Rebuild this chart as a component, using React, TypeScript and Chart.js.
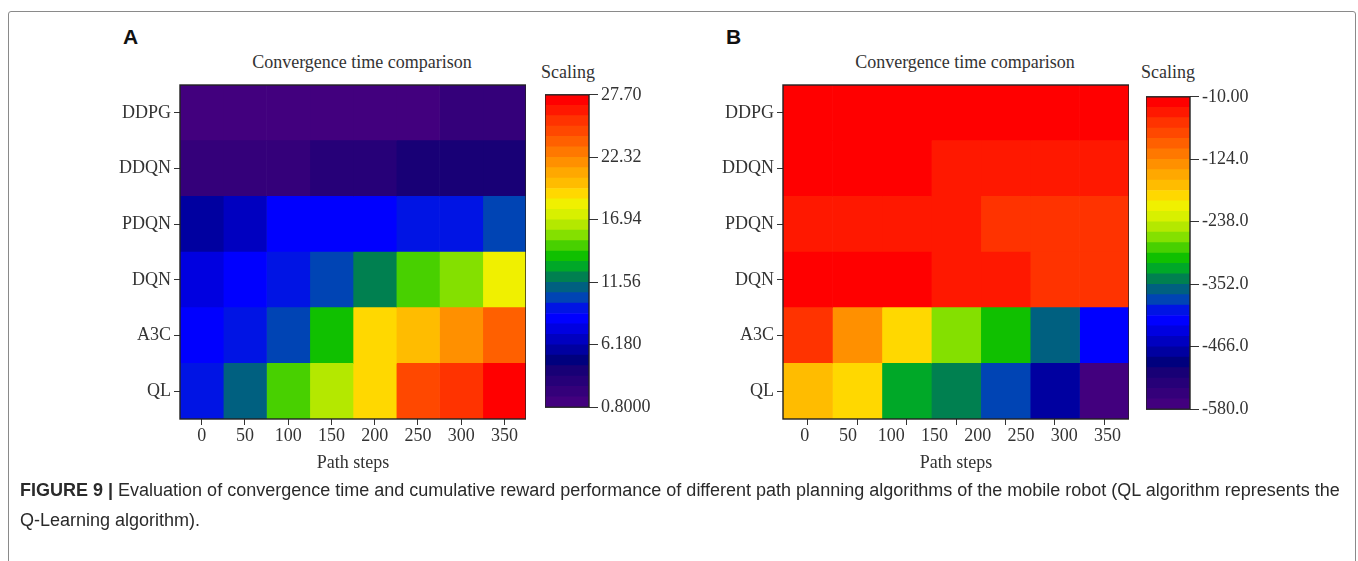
import React, { useEffect, useRef } from 'react';
import { Chart, registerables } from 'chart.js';

Chart.register(...registerables);

// ---- labels ----
const algorithms = ['DDPG', 'DDQN', 'PDQN', 'DQN', 'A3C', 'QL'];
const pathSteps = ['0', '50', '100', '150', '200', '250', '300', '350'];

// ---- Panel A: convergence time (8 cells per row) ----
const convDDPG = [1.3, 1.2, 1.4, 1.3, 1.2, 1.4, 2.2, 2.1];
const convDDQN = [2.3, 2.2, 2.1, 3.1, 3.0, 3.9, 4.0, 3.9];
const convPDQN = [5.7, 6.6, 8.4, 8.5, 8.3, 9.3, 9.2, 10.2];
const convDQN = [7.5, 8.4, 9.3, 10.1, 12.0, 14.7, 15.6, 18.3];
const convA3C = [8.4, 9.2, 10.1, 13.8, 19.2, 20.1, 21.9, 23.7];
const convQL = [9.3, 11.1, 14.7, 16.5, 19.2, 24.6, 25.5, 27.3];
const convScaleTicks = [0.8, 6.18, 11.56, 16.94, 22.32, 27.7];

// ---- Panel B: cumulative reward (7 cells per row) ----
const rewardDDPG = [-18, -17, -19, -18, -16, -18, -19];
const rewardDDQN = [-17, -19, -18, -38, -37, -39, -38];
const rewardPDQN = [-38, -37, -39, -38, -57, -56, -58];
const rewardDQN = [-18, -17, -19, -37, -38, -56, -57];
const rewardA3C = [-57, -133, -190, -266, -304, -361, -418];
const rewardQL = [-171, -190, -323, -342, -380, -475, -570];
const rewardScaleTicks = [-580, -466, -352, -238, -124, -10];

// ---- discrete rainbow palette (bottom -> top) ----
const palette = [
  '#42007e', '#34007a', '#260078', '#180076', '#00007e', '#0000a0',
  '#0000c0', '#0000e0', '#0000ff', '#0014e4', '#0044b4', '#006080',
  '#008050', '#00a828', '#10c000', '#48d000', '#84e000', '#b4e800',
  '#d8f000', '#f0f000', '#ffd800', '#ffbc00', '#ffa800', '#ff9000',
  '#ff7800', '#ff6000', '#ff4800', '#ff3300', '#ff1800', '#ff0000',
];

const SERIF = "'Liberation Serif', 'Times New Roman', serif";
const SANS = "'Liberation Sans', Arial, Helvetica, sans-serif";
const INK = '#333333';

const matrixA = [convDDPG, convDDQN, convPDQN, convDQN, convA3C, convQL];
const matrixB = [rewardDDPG, rewardDDQN, rewardPDQN, rewardDQN, rewardA3C, rewardQL];

function colorFor(v: number, min: number, max: number) {
  const n = palette.length;
  let k = Math.floor(((v - min) / (max - min)) * n);
  if (k < 0) k = 0;
  if (k > n - 1) k = n - 1;
  return palette[k];
}

const framePlugin = {
  id: 'frame',
  afterDatasetsDraw(chart: any) {
    const { ctx, chartArea: a } = chart;
    ctx.save();
    ctx.strokeStyle = '#222222';
    ctx.lineWidth = 1.4;
    ctx.strokeRect(a.left, a.top, a.right - a.left, a.bottom - a.top);
    ctx.restore();
  },
};

const tickFont = { family: SERIF, size: 18 };

function Heatmap({ matrix, scaleTicks, left, top }: { matrix: number[][]; scaleTicks: number[]; left: number; top: number }) {
  const ref = useRef<HTMLCanvasElement | null>(null);
  useEffect(() => {
    const min = scaleTicks[0];
    const max = scaleTicks[scaleTicks.length - 1];
    const nCols = matrix[0].length;
    const datasets = Array.from({ length: nCols }, (_, j) => ({
      data: matrix.map(() => 1),
      backgroundColor: matrix.map((row) => colorFor(row[j], min, max)),
      borderWidth: 0,
      barPercentage: 1,
      categoryPercentage: 1,
      xAxisID: 'x',
      yAxisID: 'y',
    }));
    const chart = new Chart(ref.current as HTMLCanvasElement, {
      type: 'bar',
      data: { labels: algorithms, datasets },
      options: {
        indexAxis: 'y',
        animation: false,
        responsive: false,
        layout: { padding: { top: 45, bottom: 2, left: 0, right: 0 } },
        plugins: {
          legend: { display: false },
          tooltip: { enabled: false },
          title: { display: false },
        },
        scales: {
          y: {
            type: 'category',
            stacked: true,
            offset: true,
            position: 'left',
            grid: { offset: false, drawOnChartArea: false, drawTicks: true, tickLength: 6, color: '#333' },
            border: { display: false },
            ticks: { font: tickFont, color: INK, padding: 3 },
            afterFit: (s: any) => {
              s.width = 80;
            },
          },
          x: {
            type: 'linear',
            stacked: true,
            min: 0,
            max: nCols,
            position: 'bottom',
            weight: 0,
            afterBuildTicks: (s: any) => {
              s.ticks = Array.from({ length: nCols }, (_, j) => ({ value: j + 0.5 }));
            },
            ticks: { display: false },
            grid: { drawOnChartArea: false, drawTicks: true, tickLength: 6, color: '#333' },
            border: { display: false },
          },
          xl: {
            type: 'category',
            axis: 'x',
            labels: pathSteps,
            position: 'bottom',
            offset: true,
            weight: 1,
            grid: { display: false, drawTicks: false },
            border: { display: false },
            ticks: { font: tickFont, color: INK, padding: 0, maxRotation: 0, autoSkip: false },
            title: {
              display: true,
              text: 'Path steps',
              font: { family: SERIF, size: 18 },
              color: INK,
              padding: { top: 2, bottom: 4 },
            },
            afterFit: (s: any) => {
              s.height = 53;
            },
          },
        },
      } as any,
      plugins: [framePlugin],
    });
    return () => chart.destroy();
  }, [matrix, scaleTicks]);
  return (
    <canvas
      ref={ref}
      width={426}
      height={440}
      style={{ position: 'absolute', left, top, width: 426, height: 440 }}
    />
  );
}

function ColorBar({ ticks, left, top }: { ticks: number[]; left: number; top: number }) {
  const ref = useRef<HTMLCanvasElement | null>(null);
  useEffect(() => {
    const min = ticks[0];
    const max = ticks[ticks.length - 1];
    const step = (max - min) / palette.length;
    const datasets = palette.map((c, k) => ({
      data: [[min + k * step, min + (k + 1) * step]],
      backgroundColor: c,
      borderWidth: 0,
      barPercentage: 1,
      categoryPercentage: 1,
    }));
    const chart = new Chart(ref.current as HTMLCanvasElement, {
      type: 'bar',
      data: { labels: [''], datasets },
      options: {
        animation: false,
        responsive: false,
        layout: { padding: { top: 10, bottom: 10, left: 0, right: 0 } },
        plugins: { legend: { display: false }, tooltip: { enabled: false } },
        scales: {
          x: { stacked: true, display: false },
          y: {
            type: 'linear',
            min,
            max,
            position: 'right',
            afterBuildTicks: (s: any) => {
              s.ticks = ticks.map((v) => ({ value: v }));
            },
            ticks: {
              font: tickFont,
              color: INK,
              padding: 3,
              callback: (v: any) => Number(v).toPrecision(4),
            },
            grid: { drawOnChartArea: false, drawTicks: true, tickLength: 9, color: '#333' },
            border: { display: false },
            afterFit: (s: any) => {
              s.width = 66;
            },
          },
        },
      } as any,
      plugins: [framePlugin],
    });
    return () => chart.destroy();
  }, [ticks]);
  return (
    <canvas
      ref={ref}
      width={110}
      height={340}
      style={{ position: 'absolute', left, top, width: 110, height: 340 }}
    />
  );
}

function CenterText({ text, cx, cy, size }: { text: string; cx: number; cy: number; size: number }) {
  const lh = Math.round(size * 1.2);
  return (
    <div
      style={{
        position: 'absolute',
        left: cx - 200,
        width: 400,
        top: cy - lh / 2,
        height: lh,
        lineHeight: `${lh}px`,
        textAlign: 'center',
        fontFamily: SERIF,
        fontSize: size,
        color: INK,
        whiteSpace: 'nowrap',
      }}
    >
      {text}
    </div>
  );
}

const panelLetter = {
  position: 'absolute' as const,
  top: 26,
  fontFamily: SANS,
  fontWeight: 700,
  fontSize: 21,
  lineHeight: '21px',
  color: '#111',
};

export default function App() {
  return (
    <div
      style={{
        position: 'fixed',
        left: 0,
        top: 0,
        width: 1358,
        height: 561,
        background: '#ffffff',
        overflow: 'hidden',
      }}
    >
      <div
        style={{
          position: 'absolute',
          left: 8,
          top: 11,
          width: 1346,
          height: 620,
          border: '1px solid #8a8a8a',
          borderRadius: 3,
        }}
      />
      <div style={{ ...panelLetter, left: 123 }}>A</div>
      <div style={{ ...panelLetter, left: 726 }}>B</div>

      <CenterText text="Convergence time comparison" cx={362} cy={62} size={18} />
      <CenterText text="Convergence time comparison" cx={965} cy={62} size={18} />
      <CenterText text="Scaling" cx={568} cy={72} size={18} />
      <CenterText text="Scaling" cx={1168} cy={72} size={18} />

      <Heatmap matrix={matrixA} scaleTicks={convScaleTicks} left={100} top={40} />
      <ColorBar ticks={convScaleTicks} left={545} top={81} />
      <Heatmap matrix={matrixB} scaleTicks={rewardScaleTicks} left={703} top={40} />
      <ColorBar ticks={rewardScaleTicks} left={1146} top={83} />

      <div
        style={{
          position: 'absolute',
          left: 20,
          top: 475,
          fontFamily: SANS,
          fontSize: 18,
          lineHeight: '30px',
          color: '#2a2a2a',
          whiteSpace: 'nowrap',
        }}
      >
        <div>
          <b>FIGURE 9 |</b> Evaluation of convergence time and cumulative reward performance of different path
          planning algorithms of the mobile robot (QL algorithm represents the
        </div>
        <div>Q-Learning algorithm).</div>
      </div>
    </div>
  );
}
